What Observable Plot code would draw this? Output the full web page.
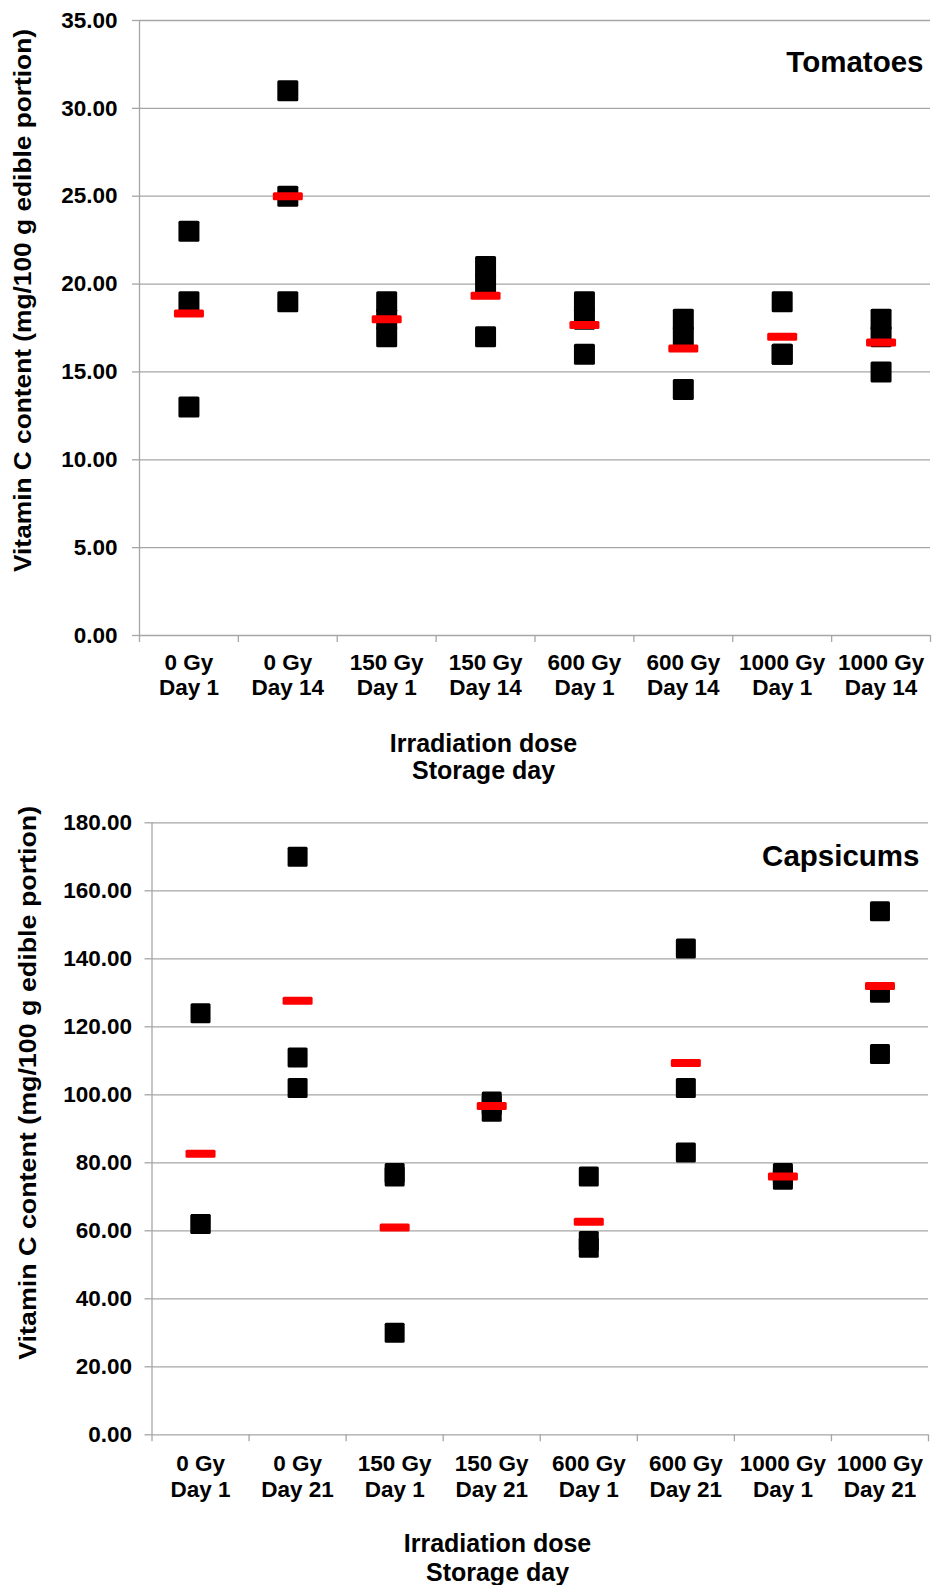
<!DOCTYPE html>
<html><head><meta charset="utf-8">
<script src="https://cdn.jsdelivr.net/npm/d3@7"></script>
<script src="https://cdn.jsdelivr.net/npm/@observablehq/plot@0.6"></script>
<style>body{margin:0;background:#fff} svg{display:block}</style>
</head><body><div id="chart"></div>
<script>
// ---- data ----
const categoriesTomato = ["0 Gy\nDay 1", "0 Gy\nDay 14", "150 Gy\nDay 1", "150 Gy\nDay 14", "600 Gy\nDay 1", "600 Gy\nDay 14", "1000 Gy\nDay 1", "1000 Gy\nDay 14"];
const tomatoRep1 = [23, 31, 19, 21, 19, 18, 19, 18];
const tomatoRep2 = [19, 25, 18, 20, 18, 17, 16, 17];
const tomatoRep3 = [13, 19, 17, 17, 16, 14, 16, 15];
const tomatoMean = [18.33, 25, 18, 19.33, 17.67, 16.33, 17, 16.67];
const tomatoTicks = [0, 5, 10, 15, 20, 25, 30, 35];

const categoriesCapsicum = ["0 Gy\nDay 1", "0 Gy\nDay 21", "150 Gy\nDay 1", "150 Gy\nDay 21", "600 Gy\nDay 1", "600 Gy\nDay 21", "1000 Gy\nDay 1", "1000 Gy\nDay 21"];
const capsicumRep1 = [124, 170, 77, 98, 76, 143, 77, 154];
const capsicumRep2 = [62, 111, 76, 97, 57, 102, 76, 130];
const capsicumRep3 = [62, 102, 30, 95, 55, 83, 75, 112];
const capsicumMean = [82.67, 127.67, 61, 96.67, 62.67, 109.33, 76, 132];
const capsicumTicks = [0, 20, 40, 60, 80, 100, 120, 140, 160, 180];

const yTitle = "Vitamin C content (mg/100 g edible portion)";
const xTitle = "Irradiation dose\nStorage day";

// ---- symbols ----
function roundRect(ctx, w, h, r) {
  const x = -w / 2, y = -h / 2;
  ctx.moveTo(x + r, y);
  ctx.arcTo(x + w, y, x + w, y + h, r);
  ctx.arcTo(x + w, y + h, x, y + h, r);
  ctx.arcTo(x, y + h, x, y, r);
  ctx.arcTo(x, y, x + w, y, r);
  ctx.closePath();
}
const makeSquare = (side) => ({draw(ctx) { roundRect(ctx, side, side, 1.5); }});
const meanBar = {draw(ctx) { roundRect(ctx, 30, 8, 1.5); }};

const GRAY = "#a6a6a6";
const FONT = "'Liberation Sans', Arial, Helvetica, sans-serif";

function makeChart(c) {
  const n = c.cats.length;
  const pts = [];
  c.reps.forEach(r => r.forEach((v, i) => pts.push({x: i + 0.5, y: v})));
  const mdata = c.means.map((v, i) => ({x: i + 0.5, y: v}));
  const lab = c.cats.map((t, i) => ({x: i + 0.5, label: t}));
  const yMax = c.ticks[c.ticks.length - 1];
  const svg = Plot.plot({
    width: 932, height: c.height,
    marginTop: c.mt, marginBottom: c.mb, marginLeft: c.ml, marginRight: c.mr,
    style: {fontFamily: FONT, fontWeight: "bold", color: "black", background: "white", overflow: "visible"},
    x: {domain: [0, n], axis: null},
    y: {domain: [0, yMax], axis: null},
    marks: [
      Plot.gridY(c.ticks, {stroke: GRAY, strokeOpacity: 1, strokeWidth: 1.3}),
      Plot.ruleX([0], {stroke: GRAY, strokeWidth: 1.3}),
      Plot.axisY(c.ticks, {tickSize: 7, tickPadding: c.tickPad, tickFormat: d3.format(".2f"), fontSize: 22.5, stroke: GRAY, strokeWidth: 1.3, fill: "black", label: null}),
      Plot.axisX(d3.range(0, n + 1), {tickSize: 7, tickFormat: () => "", stroke: GRAY, strokeWidth: 1.3, label: null}),
      Plot.text(lab, {x: "x", text: "label", frameAnchor: "bottom", lineAnchor: "middle", dy: c.xlDy, fontSize: 22.5, lineHeight: c.xlLH, fill: "black"}),
      Plot.dot(pts, {x: "x", y: "y", symbol: makeSquare(c.side), fill: "black", stroke: "none"}),
      Plot.dot(mdata, {x: "x", y: "y", symbol: meanBar, fill: "#ff0000", stroke: "none"}),
      Plot.text([c.title], {frameAnchor: "top-right", textAnchor: "end", lineAnchor: "top", dx: c.tDx, dy: c.tDy, fontSize: 29.5, fill: "black"}),
      Plot.text([yTitle], {frameAnchor: "left", textAnchor: "middle", lineAnchor: "middle", rotate: -90, dx: c.ytDx, dy: c.ytDy, fontSize: 23, fill: "black"}),
      Plot.text([xTitle], {frameAnchor: "bottom", textAnchor: "middle", lineAnchor: "middle", dx: c.xtDx, dy: c.xtDy, fontSize: 25, lineHeight: c.xtLH, fill: "black"})
    ]
  });
  svg.querySelectorAll("text").forEach(t => {
    if (t.textContent === yTitle) {
      t.setAttribute("textLength", c.ytLen);
      t.setAttribute("lengthAdjust", "spacingAndGlyphs");
    }
  });
  return svg;
}

const chartTomato = makeChart({
  cats: categoriesTomato, reps: [tomatoRep1, tomatoRep2, tomatoRep3], means: tomatoMean, ticks: tomatoTicks,
  title: "Tomatoes", height: 790, mt: 20, mb: 155, ml: 139, mr: 2, tickPad: 15, xlDy: 39.3, xlLH: 1.12,
  tDx: -7, tDy: 31, ytDx: -116, ytDy: -27.5, ytLen: 543, xtDx: -51.5, xtDy: 121.5, xtLH: 1.08, side: 21
});
const chartCapsicum = makeChart({
  cats: categoriesCapsicum, reps: [capsicumRep1, capsicumRep2, capsicumRep3], means: capsicumMean, ticks: capsicumTicks,
  title: "Capsicums", height: 795, mt: 32.3, mb: 150.7, ml: 151.5, mr: 4, tickPad: 13, xlDy: 40.5, xlLH: 1.17,
  tDx: -9, tDy: 22, ytDx: -123.5, ytDy: -46, ytLen: 554, xtDx: -42.75, xtDy: 122, xtLH: 1.16, side: 20
});
const root = document.getElementById("chart");
root.appendChild(chartTomato);
root.appendChild(chartCapsicum);
</script>
</body></html>
